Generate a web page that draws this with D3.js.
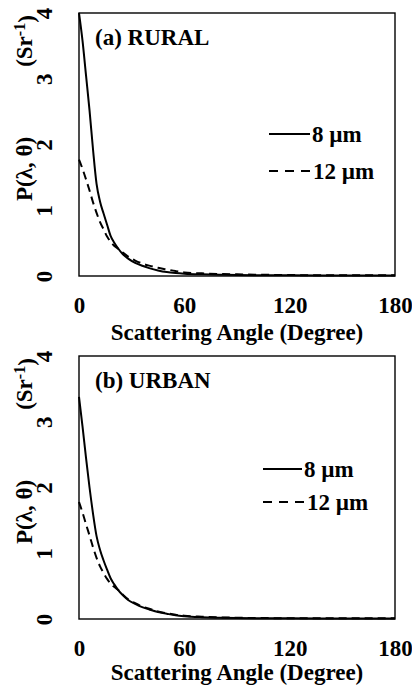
<!DOCTYPE html>
<html>
<head>
<meta charset="utf-8">
<script src="https://cdn.jsdelivr.net/npm/d3@7"></script>
<style>
  html, body { margin: 0; padding: 0; background: #fff; }
  svg { display: block; }
  text { font-family: "Liberation Serif", "Times New Roman", "DejaVu Serif", serif; font-weight: bold; fill: #000; }
</style>
</head>
<body>
<svg id="chart" width="412" height="685"></svg>
<script>
// Scattering angle (degrees) sampled for every curve
const angles = [0, 2, 4, 6, 8, 10, 12, 14, 16, 18, 20, 22, 25, 28, 32, 36, 40, 45, 50, 55, 60, 70, 80, 90, 100, 120, 140, 160, 180];

// Phase function P(λ, θ) in Sr^-1, rural aerosol
const rural8 = [4.00, 3.58, 3.05, 2.52, 1.92, 1.40, 1.13, 0.95, 0.78, 0.61, 0.51, 0.43, 0.33, 0.265, 0.20, 0.155, 0.12, 0.085, 0.06, 0.045, 0.035, 0.025, 0.02, 0.015, 0.012, 0.01, 0.008, 0.008, 0.008];
const rural12 = [1.77, 1.63, 1.47, 1.30, 1.12, 0.96, 0.82, 0.71, 0.60, 0.52, 0.46, 0.42, 0.355, 0.295, 0.235, 0.19, 0.158, 0.125, 0.10, 0.075, 0.055, 0.04, 0.03, 0.025, 0.02, 0.015, 0.01, 0.01, 0.01];

// Phase function P(λ, θ) in Sr^-1, urban aerosol
const urban8 = [3.38, 2.93, 2.45, 2.00, 1.60, 1.26, 1.05, 0.89, 0.75, 0.62, 0.53, 0.45, 0.36, 0.29, 0.23, 0.18, 0.145, 0.105, 0.08, 0.057, 0.043, 0.028, 0.02, 0.015, 0.012, 0.01, 0.008, 0.008, 0.008];
const urban12 = [1.78, 1.62, 1.44, 1.27, 1.09, 0.93, 0.80, 0.70, 0.61, 0.54, 0.49, 0.45, 0.37, 0.30, 0.24, 0.19, 0.155, 0.115, 0.088, 0.065, 0.05, 0.035, 0.025, 0.02, 0.015, 0.012, 0.01, 0.01, 0.01];

const xTicks = [0, 60, 120, 180];
const yTicks = [0, 1, 2, 3, 4];
const seriesNames = ["8 µm", "12 µm"];
const panelTitles = ["(a) RURAL", "(b) URBAN"];
const xTitle = "Scattering Angle (Degree)";

const panels = [
  { title: panelTitles[0], s8: rural8, s12: rural12, top: 13, titleGap: 56,
    legend: [{ y: 134, x1: 269, x2: 310, tx: 312 }, { y: 171, x1: 269, x2: 310, tx: 313 }] },
  { title: panelTitles[1], s8: urban8, s12: urban12, top: 356, titleGap: 53,
    legend: [{ y: 469, x1: 263, x2: 302, tx: 304 }, { y: 502, x1: 263, x2: 304, tx: 307 }] }
];

const svg = d3.select("#chart");
const left = 79, right = 395, plotH = 263;
const FS = 23;
const FONT = '"Liberation Serif", "Times New Roman", "DejaVu Serif", serif';

panels.forEach(p => {
  const x = d3.scaleLinear().domain([0, 180]).range([left, right]);
  const y = d3.scaleLinear().domain([0, 4]).range([p.top + plotH, p.top]);
  const g = svg.append("g");

  // frame
  g.append("rect")
    .attr("x", left).attr("y", p.top)
    .attr("width", right - left).attr("height", plotH)
    .attr("fill", "none").attr("stroke", "#000").attr("stroke-width", 1.4);

  // x axis labels
  const xa = g.append("g").attr("transform", `translate(0,${p.top + plotH})`)
    .call(d3.axisBottom(x).tickValues(xTicks).tickSize(0).tickFormat(d3.format("d")));
  xa.attr("font-family", null).attr("font-size", null);
  xa.select(".domain").remove();
  xa.selectAll("text")
    .attr("y", 29).attr("dy", "0.33em")
    .style("font-size", FS + "px").style("font-family", FONT).style("font-weight", "bold");

  // y axis labels, rotated
  const ya = g.append("g").attr("transform", `translate(${left},0)`)
    .call(d3.axisLeft(y).tickValues(yTicks).tickSize(0).tickFormat(d3.format("d")));
  ya.attr("font-family", null).attr("font-size", null);
  ya.select(".domain").remove();
  ya.selectAll("text")
    .attr("x", 0).attr("dy", "0.33em")
    .attr("text-anchor", "middle")
    .attr("transform", "translate(-35,0) rotate(-90)")
    .style("font-size", FS + "px").style("font-family", FONT).style("font-weight", "bold");

  // x axis title
  g.append("text")
    .attr("x", (left + right) / 2).attr("y", p.top + plotH + p.titleGap).attr("dy", "0.33em")
    .attr("text-anchor", "middle").style("font-size", FS + "px")
    .text(xTitle);

  // y axis title in two parts
  const yl = g.append("g").attr("transform", `translate(24,0)`);
  yl.append("text")
    .attr("transform", `translate(0,${p.top + 156}) rotate(-90)`)
    .attr("text-anchor", "middle").attr("dy", "0.33em")
    .style("font-size", FS + "px")
    .text("P(λ, θ)");
  const su = yl.append("text")
    .attr("transform", `translate(0,${p.top + 28}) rotate(-90)`)
    .attr("text-anchor", "middle").attr("dy", "0.33em")
    .style("font-size", FS + "px");
  su.append("tspan").text("(Sr");
  su.append("tspan").attr("dy", "-0.4em").style("font-size", "16px").text("-1");
  su.append("tspan").attr("dy", "0.4em").text(")");

  // panel title
  g.append("text")
    .attr("x", 95).attr("y", p.top + 24).attr("dy", "0.33em")
    .style("font-size", FS + "px")
    .text(p.title);

  // curves
  const line = d3.line().x((d, i) => x(angles[i])).y(d => y(d)).curve(d3.curveMonotoneX);
  g.append("path").datum(p.s12).attr("d", line)
    .attr("fill", "none").attr("stroke", "#000").attr("stroke-width", 2)
    .attr("stroke-dasharray", "8,5");
  g.append("path").datum(p.s8).attr("d", line)
    .attr("fill", "none").attr("stroke", "#000").attr("stroke-width", 2);

  // legend
  p.legend.forEach((L, i) => {
    g.append("line")
      .attr("x1", L.x1).attr("x2", L.x2).attr("y1", L.y).attr("y2", L.y)
      .attr("stroke", "#000").attr("stroke-width", 2)
      .attr("stroke-dasharray", i === 1 ? "9,7" : null);
    g.append("text")
      .attr("x", L.tx).attr("y", L.y).attr("dy", "0.33em")
      .style("font-size", FS + "px")
      .text(seriesNames[i]);
  });
});
</script>
</body>
</html>
